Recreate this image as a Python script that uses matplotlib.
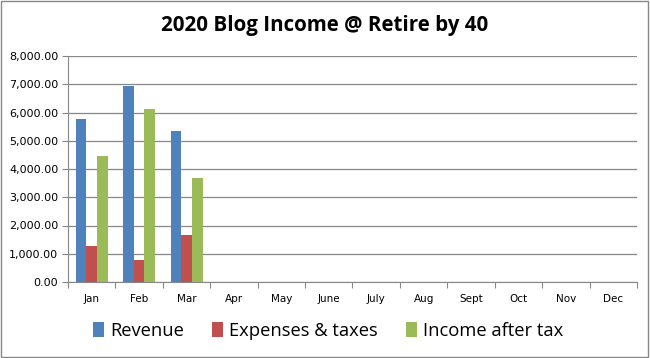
import numpy as np
import matplotlib.pyplot as plt
from matplotlib.ticker import FuncFormatter

months = ['Jan', 'Feb', 'Mar', 'Apr', 'May', 'June', 'July', 'Aug', 'Sept', 'Oct', 'Nov', 'Dec']
revenue = [5770, 6940, 5350, 0, 0, 0, 0, 0, 0, 0, 0, 0]
expenses = [1280, 790, 1670, 0, 0, 0, 0, 0, 0, 0, 0, 0]
income = [4460, 6120, 3690, 0, 0, 0, 0, 0, 0, 0, 0, 0]

fig = plt.figure(figsize=(6.5, 3.58), dpi=100)
ax = fig.add_axes([68 / 650, 1 - 282 / 358, (637 - 68) / 650, (282 - 56) / 358])

x = np.arange(len(months))
w = 0.225
ax.bar(x - w, revenue, w, color='#4F81BD', label='Revenue', zorder=3)
ax.bar(x, expenses, w, color='#C0504D', label='Expenses & taxes', zorder=3)
ax.bar(x + w, income, w, color='#9BBB59', label='Income after tax', zorder=3)

ax.set_xlim(-0.5, 11.5)
ax.set_ylim(0, 8000)
ax.set_yticks(np.arange(0, 8001, 1000))
ax.yaxis.set_major_formatter(FuncFormatter(lambda v, p: f'{v:,.2f}'))
ax.yaxis.grid(True, color='#878787', linewidth=0.9, zorder=0)

# category boundaries get the tick marks, names sit in between
ax.set_xticks(np.arange(-0.5, 12, 1))
ax.set_xticklabels([])
ax.set_xticks(x, minor=True)
ax.set_xticklabels(months, minor=True)
ax.tick_params(axis='x', which='minor', length=0, pad=9, labelsize=7.5)
ax.tick_params(axis='x', which='major', length=4, color='#878787', direction='out')
ax.tick_params(axis='y', length=4, color='#878787', labelsize=8, pad=3)

for s in ['top', 'right']:
    ax.spines[s].set_visible(False)
for s in ['left', 'bottom']:
    ax.spines[s].set_color('#878787')

fig.text(0.5, 1 - 25 / 358, '2020 Blog Income @ Retire by 40', ha='center', va='center',
         fontsize=14.8, fontweight='bold', family='Open Sans')
fig.legend(loc='center', bbox_to_anchor=(0.505, 1 - 331 / 358), ncol=3,
           frameon=False, handlelength=0.6, handleheight=0.9,
           handletextpad=0.35, columnspacing=1.5, prop={'family': 'Open Sans', 'size': 13.2})

fig.patches.append(plt.Rectangle((0.002, 0.003), 0.995, 0.994, transform=fig.transFigure,
                                 fill=False, edgecolor='#878787', linewidth=1))

fig.savefig('out.png', dpi=100)
